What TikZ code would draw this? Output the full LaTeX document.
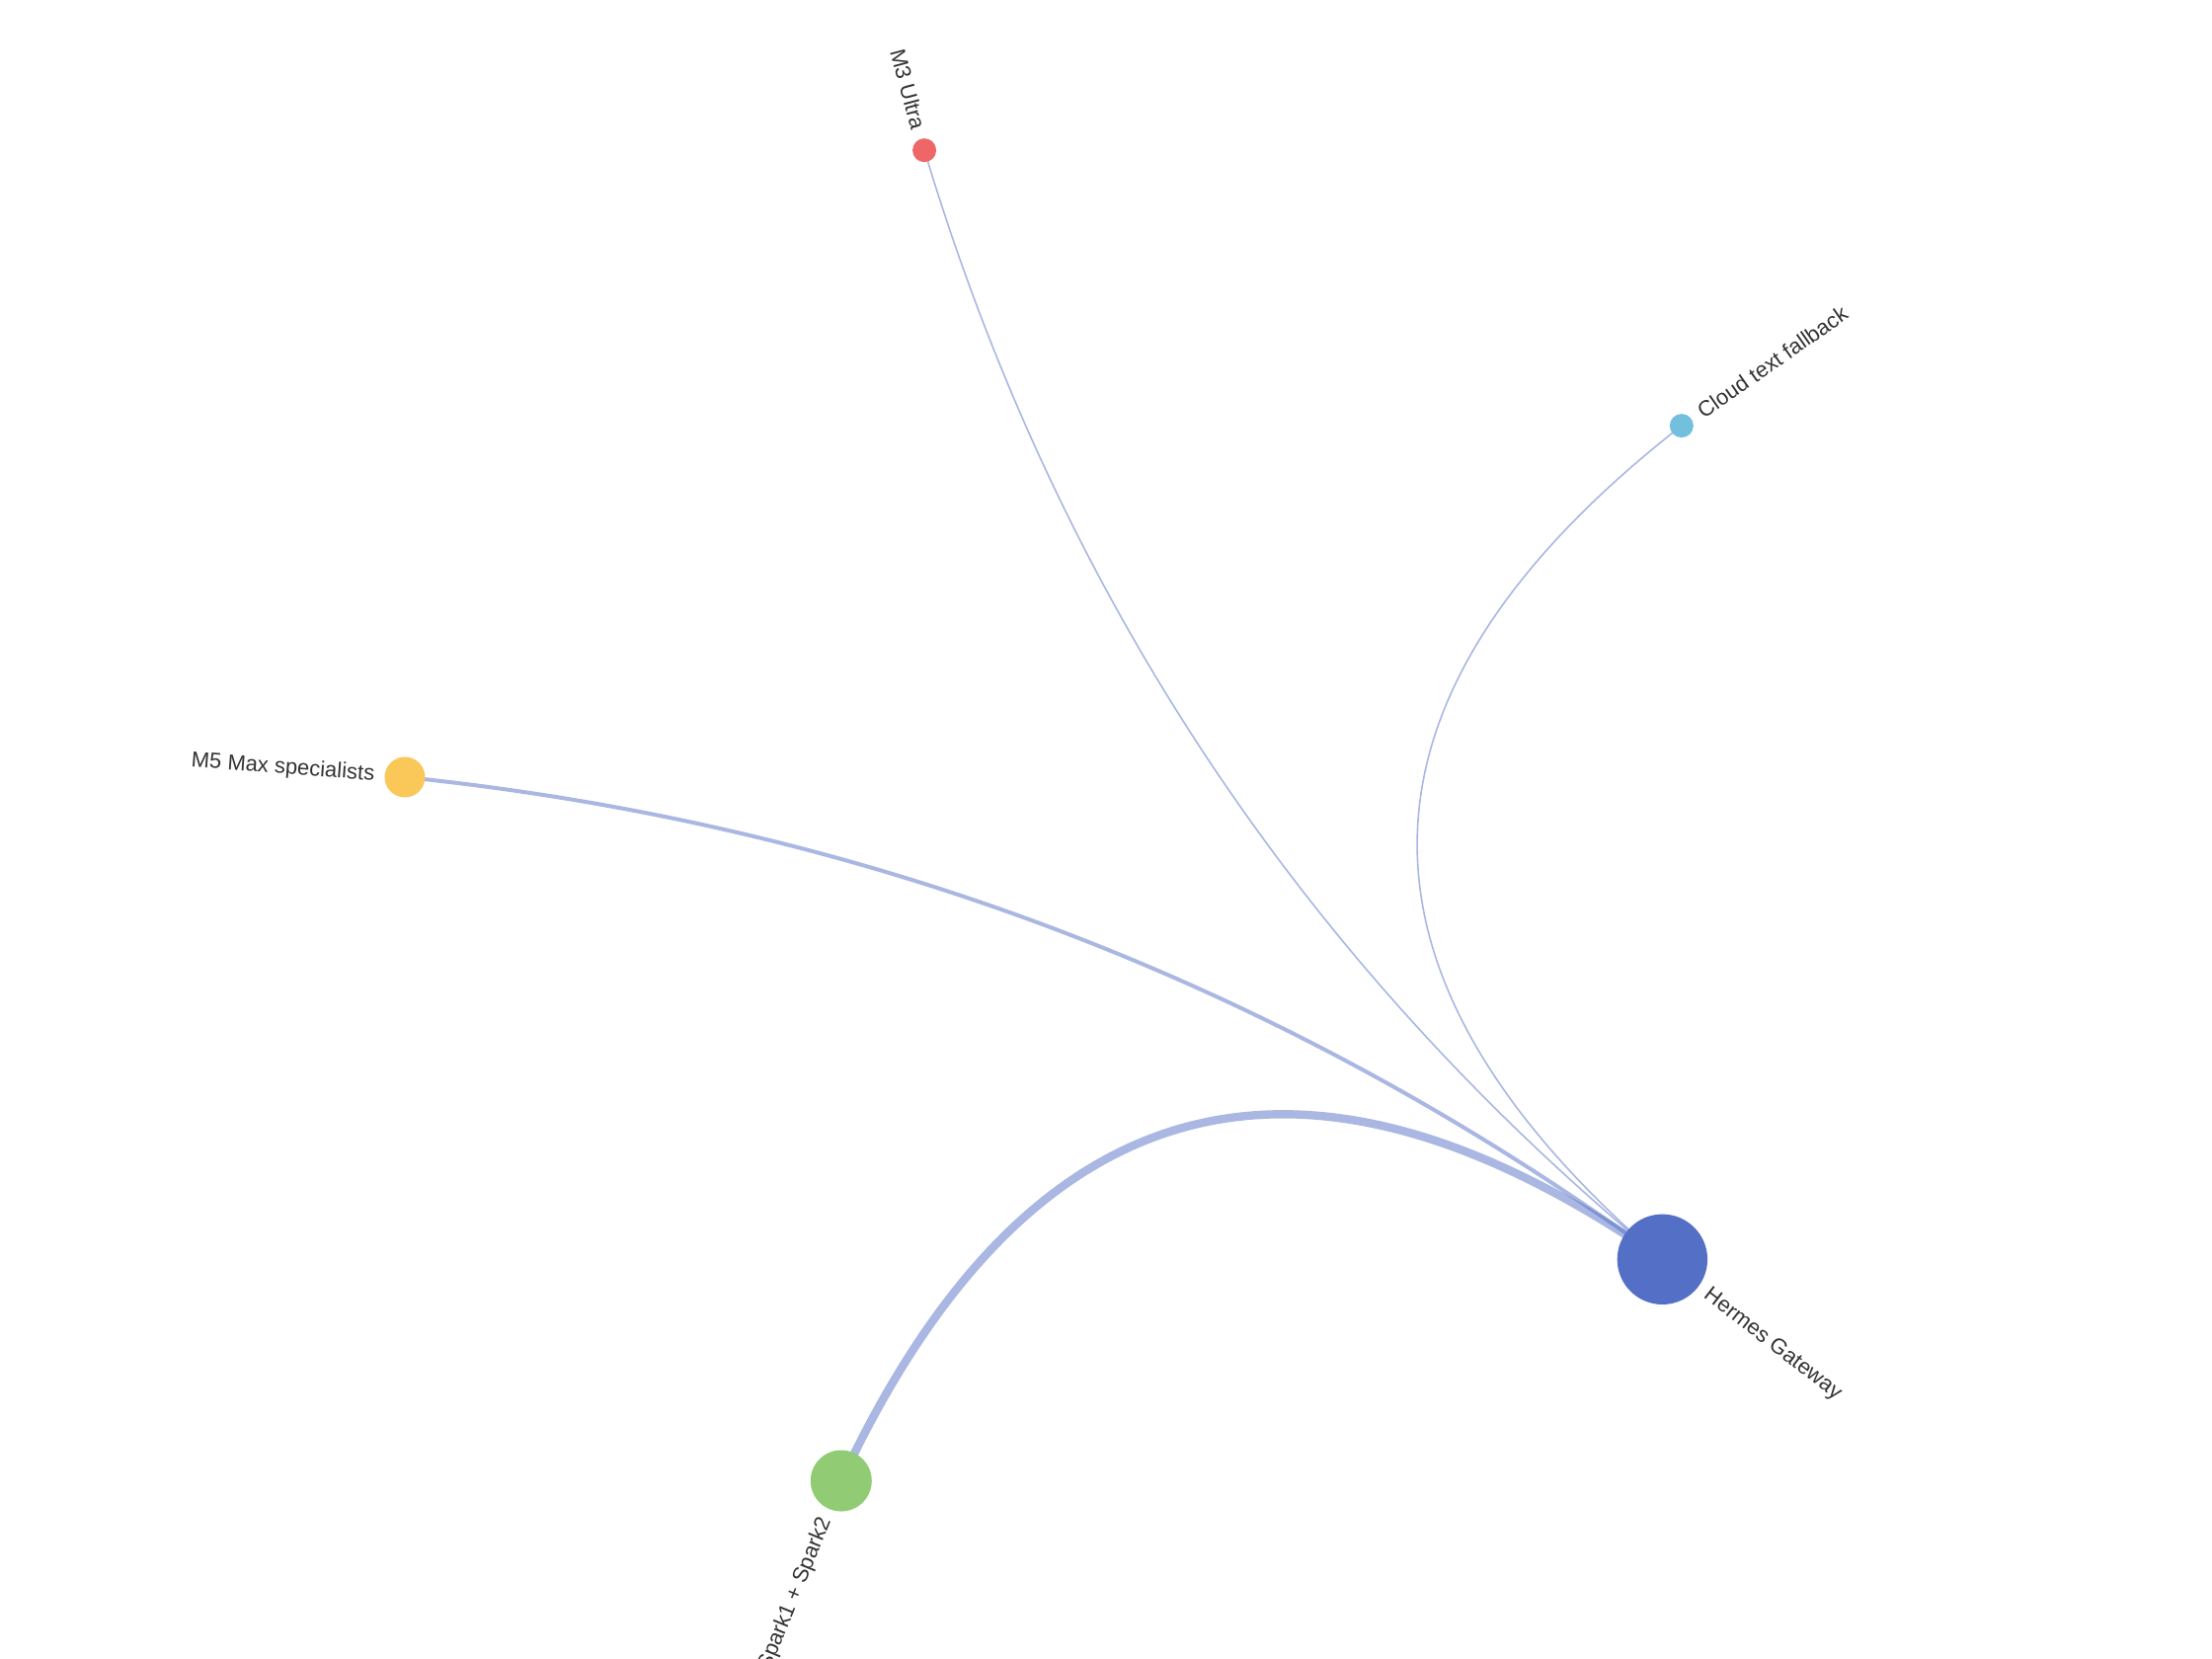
\documentclass[tikz,border=0pt]{standalone}
\usepackage{fontspec}
\setmainfont{Liberation Sans}
\usetikzlibrary{calc,backgrounds}
\definecolor{hermesblue}{HTML}{5470C6}
\definecolor{sparkgreen}{HTML}{91CC75}
\definecolor{maxyellow}{HTML}{FAC858}
\definecolor{ultrared}{HTML}{EE6666}
\definecolor{cloudcyan}{HTML}{73C0DE}
\definecolor{labelgray}{HTML}{333333}
\tikzset{
  vertex/.style={circle, inner sep=0pt, minimum size=#1},
  tag/.style={inner sep=0pt, text=labelgray, font=\fontsize{11}{13}\selectfont},
  edge/.style={draw=hermesblue, draw opacity=0.5},
}
\begin{document}
\begin{tikzpicture}[x=1pt,y=1pt]
      \useasboundingbox (-560,-420) rectangle (560,420);
      \coordinate (o) at (0,0);
      \draw
        (-37.69:356) node[vertex=45.7, fill=hermesblue] (hermes){}
        (247.87:356) node[vertex=31, fill=sparkgreen] (spark){}
        (175.73:356) node[vertex=20.5, fill=maxyellow] (m5){}
        (104.97:356) node[vertex=12, fill=ultrared] (m3){}
        (35.05:356) node[vertex=12, fill=cloudcyan] (cloud){};
      \node[tag, rotate=-37.69, anchor=west] (hermestag) at (-37.69:383.85) {Hermes Gateway};
      \node[tag, rotate=67.87, anchor=east] (sparktag) at (247.87:376.5) {Spark1 + Spark2};
      \node[tag, rotate=-4.27, anchor=east] (m5tag) at (175.73:371.25) {M5 Max specialists};
      \node[tag, rotate=-75.03, anchor=east] (m3tag) at (104.97:367) {M3 Ultra};
      \node[tag, rotate=35.05, anchor=west] (cloudtag) at (35.05:367) {Cloud text fallback};
      \begin{scope}[on background layer]
        \foreach \n/\w in {spark/4.2, m5/2, m3/0.8, cloud/0.8} {
          \coordinate (cp) at ($($(hermes.center)!0.5!(\n.center)$)!0.9!(o)$);
          \draw[edge, line width=\w] (hermes.center) .. controls ($(hermes.center)!2/3!(cp)$) and ($(\n.center)!2/3!(cp)$) .. (\n.center);
        }
      \end{scope}
    \end{tikzpicture}
\end{document}
